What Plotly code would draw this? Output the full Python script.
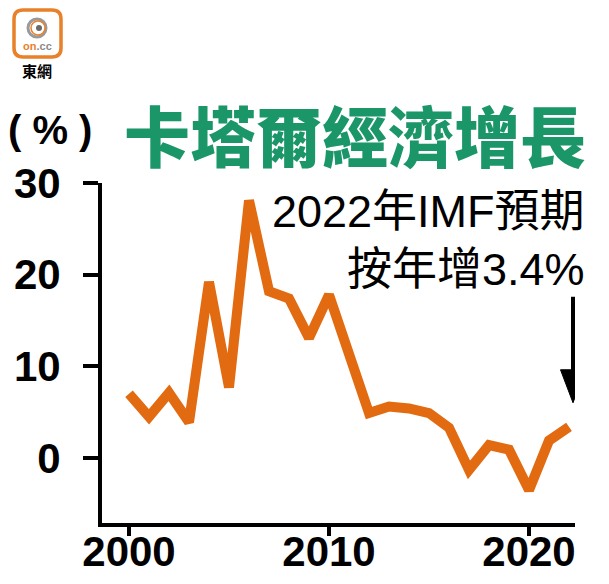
import plotly.graph_objects as go

years = list(range(2000, 2023))
growth = [7.0, 4.5, 7.1, 3.9, 19.2, 7.7, 28.1, 18.2, 17.4, 13.1, 17.8, 11.4,
          4.9, 5.6, 5.4, 4.9, 3.3, -1.3, 1.4, 0.9, -3.5, 1.9, 3.4]
y_ticks = [0, 10, 20, 30]
x_ticks = [2000, 2010, 2020]

title_text = "卡塔爾經濟增長"
unit_text = "( % )"
note_line1 = "2022年IMF預期"
note_line2 = "按年增3.4%"

W, H = 609, 584
L, R, T, B = 102, 575, 183, 523


def px(xp):
    return (xp - L) / (R - L)


def py(yp):
    return (B - yp) / (B - T)


ORANGE = "#E26A10"
GREEN = "#1B9668"
LATIN_CJK = "Liberation Sans, Arial, Noto Sans CJK TC, sans-serif"

fig = go.Figure()
fig.add_trace(go.Scatter(
    x=years, y=growth, mode="lines",
    line=dict(color=ORANGE, width=10),
    hoverinfo="skip", showlegend=False,
))

fig.update_layout(
    width=W, height=H,
    margin=dict(l=L, r=W - R, t=T, b=H - B, pad=0, autoexpand=False),
    paper_bgcolor="white", plot_bgcolor="white",
    showlegend=False,
    xaxis=dict(
        range=[1998.65, 2022.3], showgrid=False, zeroline=False,
        showline=True, linecolor="black", linewidth=4, automargin=False,
        ticks="outside", ticklen=9, tickwidth=4, tickcolor="black",
        tickvals=x_ticks, ticktext=[str(v) for v in x_ticks],
        tickfont=dict(family="Liberation Sans, Arial", size=42, color="black", weight="bold"),
        ticklabelstandoff=-20,
    ),
    yaxis=dict(
        range=[-7.1, 30], showgrid=False, zeroline=False,
        showline=True, linecolor="black", linewidth=4, automargin=False,
        ticks="outside", ticklen=15, tickwidth=4, tickcolor="black",
        tickvals=y_ticks, ticktext=[str(v) for v in y_ticks],
        tickfont=dict(family="Liberation Sans, Arial", size=42, color="black", weight="bold"),
        ticklabelstandoff=14,
    ),
)

annotations = [
    dict(text=title_text, x=px(355), y=py(133), xref="paper", yref="paper",
         xanchor="center", yanchor="middle", showarrow=False,
         font=dict(family="Noto Sans CJK TC", size=66, color=GREEN, weight=900)),
    dict(text=unit_text, x=px(50), y=py(130), xref="paper", yref="paper",
         xanchor="center", yanchor="middle", showarrow=False,
         font=dict(family="Liberation Sans, Arial", size=40, color="black", weight="bold")),
    dict(text=note_line1, x=px(587), y=py(211), xref="paper", yref="paper",
         xanchor="right", yanchor="middle", showarrow=False,
         font=dict(family=LATIN_CJK, size=45, color="black")),
    dict(text=note_line2, x=px(587), y=py(269), xref="paper", yref="paper",
         xanchor="right", yanchor="middle", showarrow=False,
         font=dict(family=LATIN_CJK, size=45, color="black")),
    # logo texts
    dict(text="<b><span style='color:#E8812A'>on</span><span style='color:#8a8a8a'>.cc</span></b>",
         x=px(37), y=py(46), xref="paper", yref="paper",
         xanchor="center", yanchor="middle", showarrow=False,
         font=dict(family="Liberation Sans, Arial", size=11)),
    dict(text="東網", x=px(37), y=py(70), xref="paper", yref="paper",
         xanchor="center", yanchor="middle", showarrow=False,
         font=dict(family="Noto Sans CJK TC", size=15, color="black", weight="bold")),
]
fig.update_layout(annotations=annotations)

shapes = []
# arrow pointing to the last data point
shapes.append(dict(type="line", xref="x", yref="y",
                   xsizemode="pixel", ysizemode="pixel",
                   xanchor=years[-1], yanchor=growth[-1],
                   x0=4, x1=4, y0=55, y1=130,
                   line=dict(color="black", width=4)))
shapes.append(dict(type="path", xref="x", yref="y",
                   xsizemode="pixel", ysizemode="pixel",
                   xanchor=years[-1], yanchor=growth[-1],
                   path="M4,24 L-8.5,57 L16.5,57 Z",
                   fillcolor="black", line=dict(color="black", width=1)))

# logo: rounded square
x0, x1, y0, y1, r = 14, 61, 10, 57, 9
path = (f"M{px(x0 + r)},{py(y0)} L{px(x1 - r)},{py(y0)} "
        f"Q{px(x1)},{py(y0)} {px(x1)},{py(y0 + r)} "
        f"L{px(x1)},{py(y1 - r)} Q{px(x1)},{py(y1)} {px(x1 - r)},{py(y1)} "
        f"L{px(x0 + r)},{py(y1)} Q{px(x0)},{py(y1)} {px(x0)},{py(y1 - r)} "
        f"L{px(x0)},{py(y0 + r)} Q{px(x0)},{py(y0)} {px(x0 + r)},{py(y0)} Z")
shapes.append(dict(type="path", xref="paper", yref="paper", path=path,
                   fillcolor="white", line=dict(color="#E8812A", width=3.5)))
# swirl circle
shapes.append(dict(type="circle", xref="paper", yref="paper",
                   x0=px(28), x1=px(46), y0=py(37), y1=py(19),
                   fillcolor="white", line=dict(color="#9a9a9a", width=3)))
shapes.append(dict(type="circle", xref="paper", yref="paper",
                   x0=px(31), x1=px(45), y0=py(35), y1=py(21),
                   fillcolor="white", line=dict(color="#E8812A", width=1.5)))
shapes.append(dict(type="circle", xref="paper", yref="paper",
                   x0=px(36), x1=px(42), y0=py(31), y1=py(25),
                   fillcolor="#6a6a6a", line=dict(color="#6a6a6a", width=0)))
fig.update_layout(shapes=shapes)

fig.write_html("out.html")
